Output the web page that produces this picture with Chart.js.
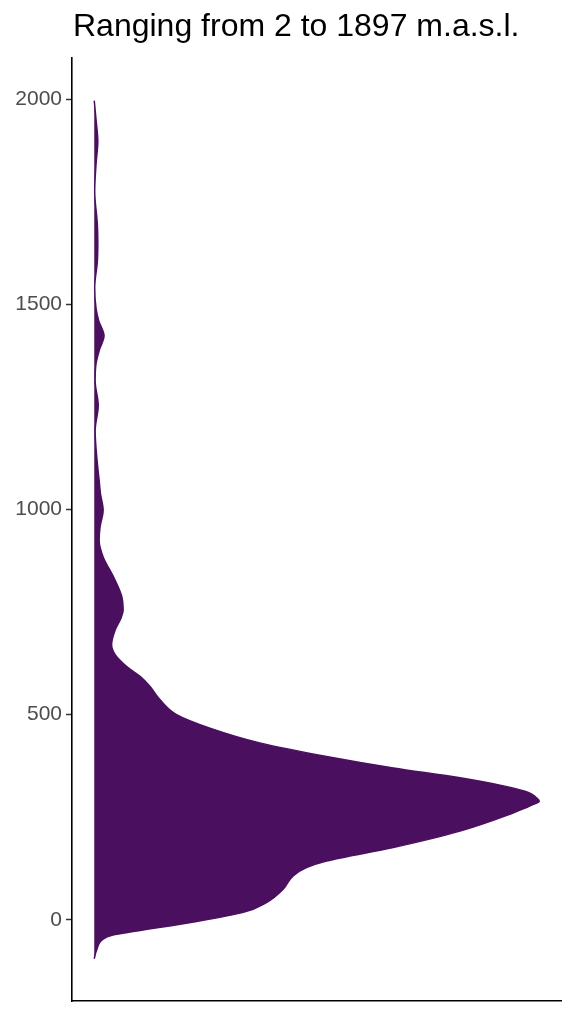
<!DOCTYPE html>
<html>
<head>
<meta charset="utf-8">
<script src="https://cdn.jsdelivr.net/npm/chart.js@4"></script>
<style>
  html, body { margin: 0; padding: 0; background: #fff; }
  #wrap { position: relative; width: 574px; height: 1024px; }
  #title {
    position: absolute; left: 73px; top: 9px;
    font-family: "Liberation Sans", Arial, sans-serif;
    font-size: 32px; line-height: 32px; color: #000; white-space: nowrap;
  }
</style>
</head>
<body>
<div id="wrap">
  <div id="title">Ranging from 2 to 1897 m.a.s.l.</div>
  <canvas id="densityChart" width="574" height="1024"></canvas>
</div>
<script>
// elevation (m.a.s.l.) and relative density
const elevation = [-95, -75, -47, -38, -31, -6, 18, 42, 75, 107, 127, 143, 176, 216, 257, 273, 281, 289, 297,
  305, 313, 325, 346, 370, 398, 431, 467, 500, 536, 569, 593, 617, 646, 670, 706, 735, 755, 787, 836, 884, 925,
  957, 998, 1038, 1071, 1112, 1192, 1253, 1313, 1355, 1390, 1423, 1460, 1490, 1540, 1605, 1650, 1694, 1775,
  1841, 1897, 1950, 1996];
const density = [0, 0.005, 0.02, 0.04, 0.075, 0.22, 0.335, 0.387, 0.425, 0.447, 0.477, 0.522, 0.672, 0.822,
  0.934, 0.97, 0.987, 1, 0.994, 0.985, 0.968, 0.925, 0.822, 0.672, 0.522, 0.372, 0.26, 0.185, 0.148, 0.125,
  0.103, 0.073, 0.047, 0.039, 0.047, 0.06, 0.065, 0.062, 0.043, 0.02, 0.011, 0.013, 0.02, 0.014, 0.011,
  0.007, 0.002, 0.009, 0.002, 0.004, 0.012, 0.022, 0.01, 0.004, 0.001, 0.007, 0.008, 0.007, 0.001, 0.004,
  0.008, 0.004, 0];
const yTicks = [0, 500, 1000, 1500, 2000];

const fillColor = "#4A0F5E";
const points = elevation.map((e, i) => ({ x: density[i], y: e }));

const ctx = document.getElementById("densityChart").getContext("2d");
new Chart(ctx, {
  type: "line",
  data: {
    datasets: [{
      data: points,
      borderColor: fillColor,
      backgroundColor: fillColor,
      borderWidth: 1.5,
      pointRadius: 0,
      fill: "origin",
      cubicInterpolationMode: "monotone"
    }]
  },
  options: {
    indexAxis: "y",
    responsive: false,
    animation: false,
    layout: { padding: { top: 58, right: 12.5, left: 0, bottom: 0 } },
    plugins: {
      legend: { display: false },
      tooltip: { enabled: false }
    },
    scales: {
      x: {
        type: "linear",
        min: -0.05,
        max: 1.05,
        ticks: { display: false },
        grid: { display: false },
        border: { display: true, color: "#000", width: 1.6 },
        afterFit: scale => { scale.height = 23; }
      },
      y: {
        type: "linear",
        min: -198,
        max: 2100,
        afterBuildTicks: scale => { scale.ticks = yTicks.map(v => ({ value: v })); },
        ticks: {
          color: "#4d4d4d",
          padding: 4,
          font: { family: "'Liberation Sans', Arial, sans-serif", size: 21 },
          callback: v => String(v)
        },
        grid: {
          display: true,
          drawOnChartArea: false,
          drawTicks: true,
          tickLength: 6,
          tickColor: "#333333",
          tickWidth: 1.5
        },
        border: { display: true, color: "#000", width: 1.6 },
        afterFit: scale => { scale.width = 72; }
      }
    }
  }
});
</script>
</body>
</html>
